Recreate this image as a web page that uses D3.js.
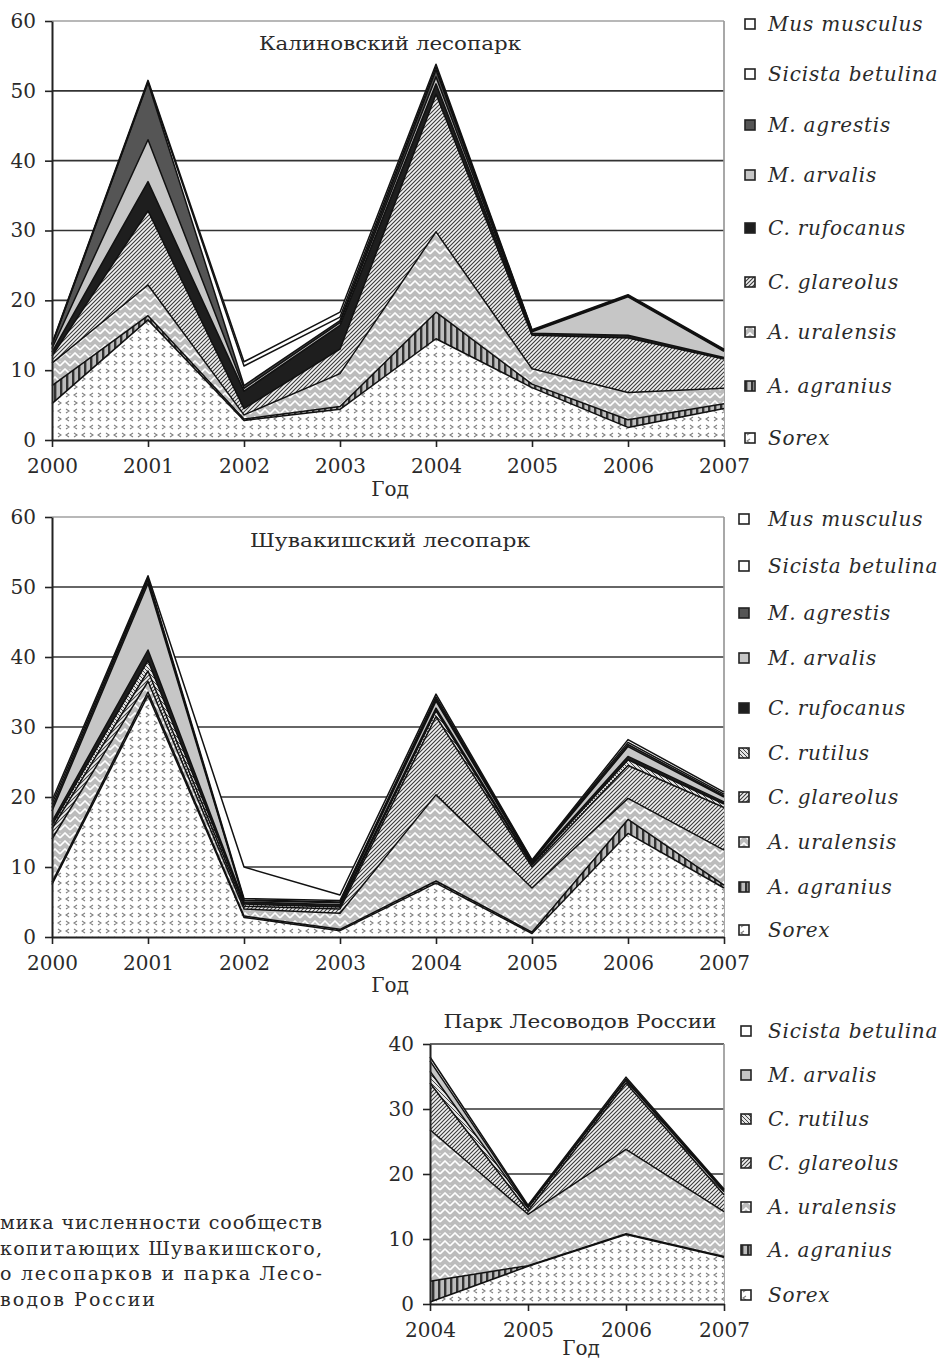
<!DOCTYPE html>
<html>
<head>
<meta charset="utf-8">
<script src="https://cdn.jsdelivr.net/npm/d3@7"></script>
<style>
  body { margin: 0; background: #fff; }
  svg { display: block; }
  text { font-family: "DejaVu Serif", serif; fill: #2a2a2a; }
</style>
</head>
<body>
<svg width="943" height="1363"></svg>
<script>
// --- data (individual counts, stacked bottom -> top) ---
const years1 = [2000, 2001, 2002, 2003, 2004, 2005, 2006, 2007];
const kalinSpecies = ['Sorex', 'A. agranius', 'A. uralensis', 'C. glareolus', 'C. rufocanus',
                      'M. arvalis', 'M. agrestis', 'Sicista betulina', 'Mus musculus'];
const kalinValues = [
  [5.2, 17.2, 2.8, 4.4, 14.5, 7.5, 1.8, 4.5],
  [2.6, 0.6, 0.2, 0.4, 3.8, 0.5, 1.1, 0.7],
  [3.2, 4.4, 0.6, 4.7, 11.5, 2.2, 3.9, 2.2],
  [1.0, 10.6, 0.9, 3.5, 19.7, 4.8, 7.8, 4.2],
  [0.6, 4.2, 2.5, 3.4, 1.5, 0.3, 0.4, 0.2],
  [0.5, 6.0, 0.4, 0.4, 1.0, 0.2, 5.5, 0.9],
  [0.5, 8.2, 0.4, 0.3, 1.0, 0.1, 0.1, 0.1],
  [0.1, 0.1, 2.8, 0.5, 0.4, 0.1, 0.1, 0.1],
  [0.1, 0.2, 0.6, 0.7, 0.4, 0.1, 0.1, 0.1]
];

const shuvSpecies = ['Sorex', 'A. agranius', 'A. uralensis', 'C. glareolus', 'C. rutilus', 'C. rufocanus',
                     'M. arvalis', 'M. agrestis', 'Sicista betulina', 'Mus musculus'];
const shuvValues = [
  [7.5, 34.5, 2.8, 0.9, 7.7, 0.5, 14.8, 7.0],
  [0.3, 0.5, 0.2, 0.2, 0.3, 0.2, 2.0, 0.4],
  [6.2, 1.5, 1.0, 2.3, 12.3, 6.3, 3.0, 5.0],
  [1.5, 1.5, 0.4, 0.6, 11.2, 3.0, 4.7, 6.1],
  [0.5, 1.5, 0.3, 0.3, 0.8, 0.3, 0.8, 0.5],
  [0.5, 1.5, 0.3, 0.3, 0.4, 0.2, 0.5, 0.3],
  [1.5, 9.5, 0.2, 0.3, 1.0, 0.2, 1.4, 0.7],
  [0.5, 0.5, 0.1, 0.1, 0.3, 0.1, 0.3, 0.2],
  [0.5, 0.3, 0.2, 0.2, 0.3, 0.1, 0.3, 0.2],
  [0.5, 0.3, 4.5, 0.8, 0.4, 0.1, 0.4, 0.3]
];

const years3 = [2004, 2005, 2006, 2007];
const parkSpecies = ['Sorex', 'A. agranius', 'A. uralensis', 'C. glareolus', 'C. rutilus',
                     'M. arvalis', 'Sicista betulina'];
const parkValues = [
  [0.3, 5.8, 10.7, 7.2],
  [3.2, 0.1, 0.1, 0.1],
  [23.3, 7.9, 13.0, 6.9],
  [7.2, 0.5, 10.2, 2.6],
  [1.8, 0.5, 0.4, 0.5],
  [1.6, 0.2, 0.2, 0.2],
  [0.6, 0.2, 0.3, 0.2]
];

const captionLines = ['мика численности сообществ', 'копитающих Шувакишского,',
                      'о лесопарков и парка Лесо-', 'водов  России'];

const svg = d3.select('svg');
const defs = svg.append('defs');

// hatch patterns imitating the printed fills
function pattern(id, w, h, bg, draw) {
  const p = defs.append('pattern')
      .attr('id', id)
      .attr('patternUnits', 'userSpaceOnUse')
      .attr('width', w)
      .attr('height', h);
  p.append('rect').attr('width', w).attr('height', h).attr('fill', bg);
  draw(p);
}

pattern('p-sorex', 16, 16, '#fff', p => {
  p.append('path')
      .attr('d', 'M5,1L2,3L5,5 M10,1L13,3L10,5 M2,9L5,11L2,13 M13,9L10,11L13,13')
      .attr('fill', 'none').attr('stroke', '#808080').attr('stroke-width', 1.1);
});
pattern('p-agranius', 6, 6, '#bdbdbd', p => {
  p.append('rect').attr('width', 2.4).attr('height', 6).attr('fill', '#333');
});
pattern('p-uralensis', 10, 8, '#bcbcbc', p => {
  p.append('path')
      .attr('d', 'M0,6L5,1L10,6 M-5,6L0,1 M10,1L15,6')
      .attr('fill', 'none').attr('stroke', '#fff').attr('stroke-width', 1.6);
});
pattern('p-glareolus', 4, 4, '#f2f2f2', p => {
  p.append('path')
      .attr('d', 'M-1,1L1,-1 M0,4L4,0 M3,5L5,3')
      .attr('stroke', '#3a3a3a').attr('stroke-width', 1.1);
});
pattern('p-rutilus', 4, 4, '#e4e4e4', p => {
  p.append('path')
      .attr('d', 'M-1,3L1,5 M0,0L4,4 M3,-1L5,1')
      .attr('stroke', '#444').attr('stroke-width', 1);
});

const fills = {
  'Sorex': 'url(#p-sorex)',
  'A. agranius': 'url(#p-agranius)',
  'A. uralensis': 'url(#p-uralensis)',
  'C. glareolus': 'url(#p-glareolus)',
  'C. rutilus': 'url(#p-rutilus)',
  'C. rufocanus': '#1e1e1e',
  'M. arvalis': '#c6c6c6',
  'M. agrestis': '#555',
  'Sicista betulina': '#fff',
  'Mus musculus': '#fff'
};

function panel(o) {
  const x = d3.scaleLinear().domain(d3.extent(o.years)).range([o.x0, o.x1]);
  const y = d3.scaleLinear().domain([0, o.ymax]).range([o.y0, o.y1]);
  const g = svg.append('g');

  // grid lines
  const gridVals = d3.range(10, o.ymax + 1, 10);
  g.selectAll('line.grid')
    .data(gridVals)
    .join('line')
      .attr('x1', o.x0).attr('x2', o.x1)
      .attr('y1', d => y(d)).attr('y2', d => y(d))
      .attr('stroke', d => d === o.ymax ? o.topColor : '#333')
      .attr('stroke-width', 1.7);
  g.append('line')
      .attr('x1', o.x1).attr('x2', o.x1)
      .attr('y1', y(o.ymax)).attr('y2', o.y0)
      .attr('stroke', '#999').attr('stroke-width', 1.7);

  // stacked areas
  const rows = o.years.map((yr, i) => {
    const r = { year: yr };
    o.species.forEach((s, j) => { r[s] = o.values[j][i]; });
    return r;
  });
  const stacked = d3.stack().keys(o.species)(rows);
  const area = d3.area()
      .x(d => x(d.data.year))
      .y0(d => y(d[0]))
      .y1(d => y(d[1]));
  const top = d3.line()
      .x(d => x(d.data.year))
      .y(d => y(d[1]));

  g.selectAll('path.layer')
    .data(stacked)
    .join('path')
      .attr('class', 'layer')
      .attr('d', area)
      .attr('fill', d => fills[d.key]);
  g.selectAll('path.edge')
    .data(stacked)
    .join('path')
      .attr('class', 'edge')
      .attr('d', top)
      .attr('fill', 'none')
      .attr('stroke', '#111')
      .attr('stroke-width', 1.5)
      .attr('stroke-linejoin', 'round');

  // axes
  const ya = g.append('g')
      .attr('transform', `translate(${o.x0},0)`)
      .call(d3.axisLeft(y).tickValues(d3.range(0, o.ymax + 1, 10)).tickSize(7).tickSizeOuter(0).tickPadding(9));
  const xa = g.append('g')
      .attr('transform', `translate(0,${o.y0})`)
      .call(d3.axisBottom(x).tickValues(o.years).tickFormat(d3.format('d')).tickSize(7).tickSizeOuter(0).tickPadding(12));
  [ya, xa].forEach(a => {
    a.select('.domain').attr('stroke', '#222').attr('stroke-width', 2);
    a.selectAll('.tick line').attr('stroke', '#222').attr('stroke-width', 1.6);
    a.selectAll('.tick text')
        .attr('font-family', '"DejaVu Serif", serif')
        .attr('font-size', 20)
        .attr('fill', '#2a2a2a');
  });

  // titles
  g.append('text')
      .attr('x', o.titleX).attr('y', o.titleY)
      .attr('text-anchor', 'middle')
      .attr('font-size', 19)
      .attr('textLength', o.titleLen)
      .attr('lengthAdjust', 'spacingAndGlyphs')
      .text(o.title);
  g.append('text')
      .attr('x', o.xLabelX).attr('y', o.y0 + o.xLabelDy)
      .attr('text-anchor', 'middle')
      .attr('font-size', 20)
      .text('Год');

  // legend, top item = top layer
  const leg = g.selectAll('g.leg')
    .data(o.species.slice().reverse())
    .join('g')
      .attr('class', 'leg')
      .attr('transform', (d, i) => `translate(${o.legendX},${o.legendYs[i]})`);
  leg.append('rect')
      .attr('x', 0).attr('y', -5)
      .attr('width', 10).attr('height', 10)
      .attr('fill', d => fills[d])
      .attr('stroke', '#222').attr('stroke-width', 1.6);
  leg.append('text')
      .attr('x', 768 - o.legendX).attr('y', 7)
      .attr('font-size', 20)
      .attr('font-style', 'italic')
      .attr('letter-spacing', 0.8)
      .text(d => d);
}

panel({
  years: years1, species: kalinSpecies, values: kalinValues, ymax: 60,
  x0: 52, x1: 724, y0: 440, y1: 21, topColor: '#a0a0a0',
  title: 'Калиновский лесопарк', titleX: 390, titleY: 50, titleLen: 262,
  xLabelX: 390, xLabelDy: 56,
  legendX: 745, legendYs: [24, 74, 125, 175, 228, 282, 332, 386, 438]
});

panel({
  years: years1, species: shuvSpecies, values: shuvValues, ymax: 60,
  x0: 52, x1: 724, y0: 937, y1: 517, topColor: '#a0a0a0',
  title: 'Шувакишский лесопарк', titleX: 390, titleY: 547, titleLen: 280,
  xLabelX: 390, xLabelDy: 55,
  legendX: 739, legendYs: [519, 566, 613, 658, 708, 753, 797, 842, 887, 930]
});

panel({
  years: years3, species: parkSpecies, values: parkValues, ymax: 40,
  x0: 430, x1: 724, y0: 1304, y1: 1044, topColor: '#333',
  title: 'Парк Лесоводов России', titleX: 580, titleY: 1028, titleLen: 273,
  xLabelX: 581, xLabelDy: 51,
  legendX: 741, legendYs: [1031, 1075, 1119, 1163, 1207, 1250, 1295]
});

// caption fragment at lower left
svg.append('g')
  .selectAll('text')
  .data(captionLines)
  .join('text')
    .attr('x', 0)
    .attr('y', (d, i) => 1229 + i * 25.7)
    .attr('font-size', 19)
    .attr('fill', '#111')
    .attr('textLength', (d, i) => i < 3 ? 322 : 155)
    .attr('lengthAdjust', 'spacing')
    .text(d => d);
</script>
</body>
</html>
